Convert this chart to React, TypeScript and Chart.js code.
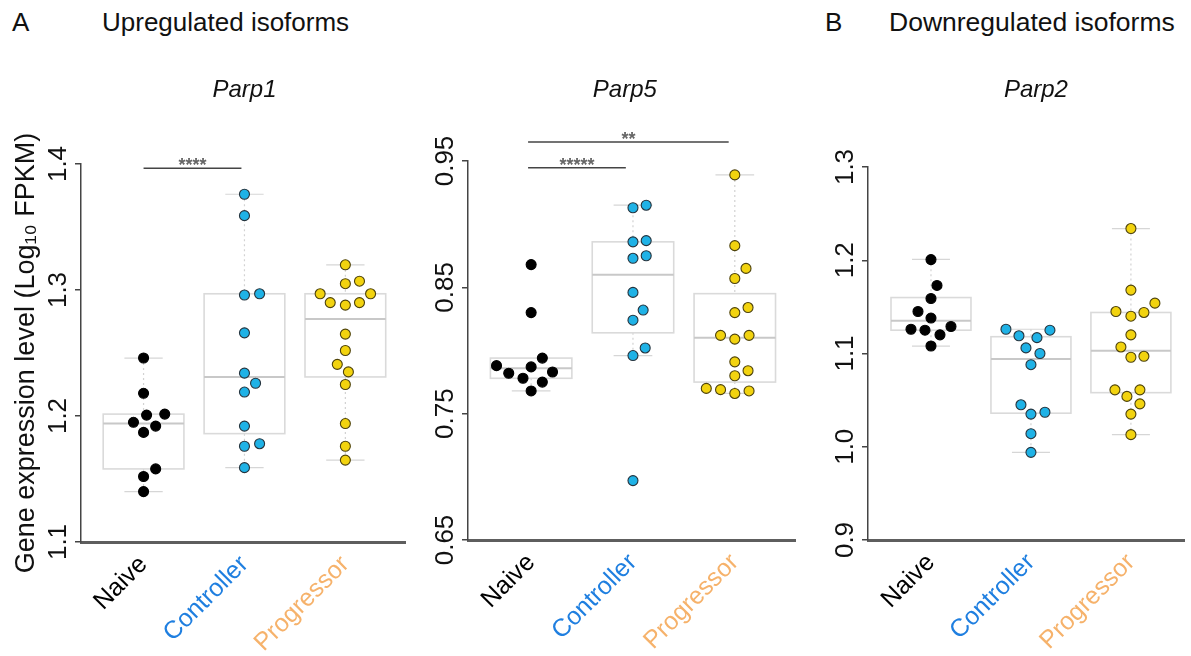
import React, { useEffect, useRef } from 'react';
import { Chart, registerables } from 'chart.js';

Chart.register(...registerables);

const FONT = '"Liberation Sans", Arial, Helvetica, sans-serif';

// ---- shared categories ----
const groups = ['Naive', 'Controller', 'Progressor'];
const groupLabelColors = ['#000000', '#1f7fe0', '#f6b26b'];
const pointFill = ['#000000', '#1fb2e6', '#f2d30f'];
const pointBorder = ['#000000', '#25333d', '#4d420c'];

// ---- Parp1 (upregulated) ----
const parp1NaiveValues = [1.246, 1.218, 1.2007, 1.2015, 1.195, 1.192, 1.187, 1.158, 1.152, 1.14];
const parp1NaiveJitter = [0, 0, 0.03, 0.21, -0.1, 0.12, 0, 0.12, 0, 0];
const parp1ControllerValues = [1.376, 1.359, 1.296, 1.297, 1.266, 1.234, 1.226, 1.219, 1.192, 1.176, 1.178, 1.159];
const parp1ControllerJitter = [0, 0, 0, 0.15, 0, 0, 0.11, 0, 0, 0, 0.15, 0];
const parp1ProgressorValues = [1.32, 1.305, 1.307, 1.297, 1.297, 1.29, 1.288, 1.29, 1.265, 1.252, 1.241, 1.235, 1.225, 1.194, 1.176, 1.165];
const parp1ProgressorJitter = [0, 0, 0.14, -0.25, 0.25, -0.15, 0, 0.14, 0, 0, -0.08, 0.03, 0, 0, 0, 0];
// [lower whisker, Q1, median, Q3, upper whisker]
const parp1Boxes = [
  [1.14, 1.158, 1.194, 1.2015, 1.246],
  [1.159, 1.186, 1.231, 1.297, 1.376],
  [1.165, 1.231, 1.277, 1.297, 1.32],
];
const parp1Ticks = [1.1, 1.2, 1.3, 1.4];
const parp1TickLabels = ['1.1', '1.2', '1.3', '1.4'];
const parp1Sig = [{ from: 0, to: 0.97, y: 1.3966, label: '****' }];

// ---- Parp5 (upregulated) ----
const parp5NaiveValues = [0.868, 0.83, 0.794, 0.788, 0.787, 0.783, 0.782, 0.778, 0.775, 0.768];
const parp5NaiveJitter = [0, 0, 0.11, -0.34, 0, 0.21, -0.22, -0.08, 0.11, 0];
const parp5ControllerValues = [0.913, 0.915, 0.886, 0.887, 0.873, 0.875, 0.846, 0.832, 0.824, 0.802, 0.796, 0.697];
const parp5ControllerJitter = [0, 0.13, 0, 0.13, 0, 0.13, 0, 0.1, 0, 0.12, 0, 0];
const parp5ProgressorValues = [0.939, 0.883, 0.865, 0.857, 0.834, 0.83, 0.812, 0.809, 0.812, 0.791, 0.784, 0.78, 0.77, 0.769, 0.766, 0.768];
const parp5ProgressorJitter = [0, 0, 0.11, 0, 0.13, 0, -0.14, 0, 0.14, 0, 0.13, 0, -0.28, -0.14, 0, 0.14];
const parp5Boxes = [
  [0.768, 0.778, 0.786, 0.794, 0.794],
  [0.796, 0.814, 0.86, 0.886, 0.915],
  [0.766, 0.775, 0.81, 0.845, 0.939],
];
const parp5Ticks = [0.65, 0.75, 0.85, 0.95];
const parp5TickLabels = ['0.65', '0.75', '0.85', '0.95'];
const parp5Sig = [
  { from: -0.03, to: 0.93, y: 0.9447, label: '*****' },
  { from: -0.03, to: 1.94, y: 0.965, label: '**' },
];

// ---- Parp2 (downregulated) ----
const parp2NaiveValues = [1.2007, 1.173, 1.159, 1.145, 1.138, 1.126, 1.125, 1.129, 1.12, 1.108];
const parp2NaiveJitter = [0, 0.06, 0, -0.13, 0, -0.2, -0.06, 0.2, 0.09, 0];
const parp2ControllerValues = [1.126, 1.119, 1.117, 1.125, 1.106, 1.1, 1.088, 1.045, 1.035, 1.037, 1.014, 0.994];
const parp2ControllerJitter = [-0.25, -0.12, 0.06, 0.19, -0.05, 0.09, 0, -0.1, 0, 0.14, 0, 0];
const parp2ProgressorValues = [1.234, 1.168, 1.154, 1.145, 1.14, 1.144, 1.12, 1.107, 1.096, 1.097, 1.061, 1.061, 1.054, 1.046, 1.035, 1.013];
const parp2ProgressorJitter = [0, 0, 0.24, -0.15, 0, 0.13, 0, -0.1, 0, 0.13, -0.16, 0.09, -0.04, 0.09, 0, 0];
const parp2Boxes = [
  [1.108, 1.125, 1.135, 1.16, 1.201],
  [0.994, 1.036, 1.094, 1.118, 1.126],
  [1.013, 1.058, 1.103, 1.144, 1.234],
];
const parp2Ticks = [0.9, 1.0, 1.1, 1.2, 1.3];
const parp2TickLabels = ['0.9', '1.0', '1.1', '1.2', '1.3'];
const parp2Sig: { from: number; to: number; y: number; label: string }[] = [];

type PanelProps = {
  title: string;
  titleAt: number;
  values: number[][];
  jitter: number[][];
  boxes: number[][];
  ticks: number[];
  tickLabels: string[];
  sig: { from: number; to: number; y: number; label: string }[];
  yMin: number;
  yMax: number;
  xMin: number;
  xMax: number;
  left: number;
  width: number;
  padTop: number;
  padRight: number;
  yAxisWidth: number;
  xAxisHeight: number;
  tickPad: number;
  yTitle?: string;
};

const H = 656;

function Panel(p: PanelProps) {
  const ref = useRef<HTMLCanvasElement | null>(null);
  useEffect(() => {
    if (!ref.current) return;
    const extras = {
      id: 'boxExtras',
      beforeDatasetsDraw(chart: any) {
        const { ctx, scales } = chart;
        const x = scales.x;
        const y = scales.y;
        const line = (x1: number, y1: number, x2: number, y2: number) => {
          ctx.beginPath();
          ctx.moveTo(x1, y1);
          ctx.lineTo(x2, y2);
          ctx.stroke();
        };
        p.boxes.forEach((b, g) => {
          const [lo, q1, med, q3, hi] = b;
          const xl = x.getPixelForValue(g - 0.4);
          const xr = x.getPixelForValue(g + 0.4);
          const xc = x.getPixelForValue(g);
          const cl = x.getPixelForValue(g - 0.19);
          const cr = x.getPixelForValue(g + 0.19);
          ctx.save();
          ctx.strokeStyle = '#d2d2d2';
          ctx.lineWidth = 1.2;
          ctx.setLineDash([2, 3]);
          if (hi > q3) line(xc, y.getPixelForValue(hi), xc, y.getPixelForValue(q3));
          if (lo < q1) line(xc, y.getPixelForValue(q1), xc, y.getPixelForValue(lo));
          ctx.setLineDash([]);
          ctx.strokeStyle = '#d6d6d6';
          if (hi > q3) line(cl, y.getPixelForValue(hi), cr, y.getPixelForValue(hi));
          if (lo < q1) line(cl, y.getPixelForValue(lo), cr, y.getPixelForValue(lo));
          ctx.strokeStyle = '#dadada';
          ctx.lineWidth = 1.6;
          ctx.strokeRect(xl, y.getPixelForValue(q3), xr - xl, y.getPixelForValue(q1) - y.getPixelForValue(q3));
          ctx.strokeStyle = '#c8c8c8';
          ctx.lineWidth = 2;
          line(xl, y.getPixelForValue(med), xr, y.getPixelForValue(med));
          ctx.restore();
        });
      },
      afterDraw(chart: any) {
        const { ctx, scales } = chart;
        const x = scales.x;
        const y = scales.y;
        ctx.save();
        ctx.fillStyle = '#111';
        ctx.font = `italic 24px ${FONT}`;
        ctx.textAlign = 'center';
        ctx.textBaseline = 'alphabetic';
        ctx.fillText(p.title, x.getPixelForValue(p.titleAt), 97);
        p.sig.forEach((s) => {
          const yy = y.getPixelForValue(s.y);
          ctx.strokeStyle = '#444';
          ctx.lineWidth = 1.5;
          ctx.beginPath();
          ctx.moveTo(x.getPixelForValue(s.from), yy);
          ctx.lineTo(x.getPixelForValue(s.to), yy);
          ctx.stroke();
          ctx.fillStyle = '#666';
          ctx.font = `bold 18px ${FONT}`;
          ctx.textAlign = 'center';
          ctx.textBaseline = 'alphabetic';
          ctx.fillText(s.label, (x.getPixelForValue(s.from) + x.getPixelForValue(s.to)) / 2, yy + 3);
        });
        ctx.restore();
      },
    };
    const chart = new Chart(ref.current, {
      type: 'scatter',
      data: {
        datasets: p.values.map((vals, g) => ({
          label: groups[g],
          data: vals.map((v, i) => ({ x: g + p.jitter[g][i], y: v })),
          backgroundColor: pointFill[g],
          borderColor: pointBorder[g],
          borderWidth: 1.1,
          pointRadius: 5,
          pointHoverRadius: 5,
        })),
      },
      options: {
        animation: false,
        responsive: false,
        maintainAspectRatio: false,
        devicePixelRatio: 1,
        layout: { padding: { top: p.padTop, right: p.padRight, left: 0, bottom: 0 } },
        plugins: { legend: { display: false }, tooltip: { enabled: false }, title: { display: false } },
        scales: {
          x: {
            type: 'linear',
            min: p.xMin,
            max: p.xMax,
            afterBuildTicks: (s: any) => {
              s.ticks = groups.map((_, i) => ({ value: i }));
            },
            afterFit: (s: any) => {
              s.height = p.xAxisHeight;
            },
            ticks: {
              autoSkip: false,
              minRotation: 45,
              maxRotation: 45,
              padding: 8,
              font: { family: FONT, size: 25 },
              color: (c: any) => groupLabelColors[c.index],
              callback: (_v: any, i: number) => groups[i],
            },
            grid: { display: true, drawOnChartArea: false, drawTicks: false },
            border: { display: true, color: '#5e5e5e', width: 3 },
          },
          y: {
            type: 'linear',
            min: p.yMin,
            max: p.yMax,
            afterBuildTicks: (s: any) => {
              s.ticks = p.ticks.map((v) => ({ value: v }));
            },
            afterFit: (s: any) => {
              s.width = p.yAxisWidth;
            },
            ticks: {
              minRotation: 90,
              maxRotation: 90,
              crossAlign: 'center',
              padding: p.tickPad,
              font: { family: FONT, size: 26 },
              color: '#111',
              callback: (_v: any, i: number) => p.tickLabels[i],
            },
            grid: { display: true, drawOnChartArea: false, drawTicks: true, tickLength: 6, color: '#444', lineWidth: 1.5 },
            border: { display: true, color: '#444', width: 1.5 },
            title: p.yTitle
              ? { display: true, text: p.yTitle, font: { family: FONT, size: 27 }, color: '#111', padding: { top: 10, bottom: 0 } }
              : { display: false },
          },
        },
      },
      plugins: [extras],
    } as any);
    return () => chart.destroy();
  }, []);
  return (
    <canvas
      ref={ref}
      width={p.width}
      height={H}
      style={{ position: 'absolute', left: p.left, top: 0, width: p.width, height: H }}
    />
  );
}

const headStyle: React.CSSProperties = {
  position: 'absolute',
  top: 9,
  fontFamily: FONT,
  fontSize: 26,
  lineHeight: '26px',
  color: '#111',
  whiteSpace: 'nowrap',
};

export default function App() {
  return (
    <div style={{ position: 'absolute', left: 0, top: 0, width: 1191, height: H, background: '#fff', overflow: 'hidden' }}>
      <div style={{ ...headStyle, left: 12 }}>A</div>
      <div style={{ ...headStyle, left: 102 }}>Upregulated isoforms</div>
      <div style={{ ...headStyle, left: 825 }}>B</div>
      <div style={{ ...headStyle, left: 889, fontSize: 26.5 }}>Downregulated isoforms</div>
      <Panel
        title="Parp1"
        titleAt={1}
        values={[parp1NaiveValues, parp1ControllerValues, parp1ProgressorValues]}
        jitter={[parp1NaiveJitter, parp1ControllerJitter, parp1ProgressorJitter]}
        boxes={parp1Boxes}
        ticks={parp1Ticks}
        tickLabels={parp1TickLabels}
        sig={parp1Sig}
        yMin={1.1}
        yMax={1.4}
        xMin={-0.62}
        xMax={2.6}
        left={0}
        width={412}
        padTop={164}
        padRight={3}
        yAxisWidth={81}
        xAxisHeight={114}
        tickPad={-2}
        yTitle="Gene expression level (Log₁₀ FPKM)"
      />
      <Panel
        title="Parp5"
        titleAt={0.92}
        values={[parp5NaiveValues, parp5ControllerValues, parp5ProgressorValues]}
        jitter={[parp5NaiveJitter, parp5ControllerJitter, parp5ProgressorJitter]}
        boxes={parp5Boxes}
        ticks={parp5Ticks}
        tickLabels={parp5TickLabels}
        sig={parp5Sig}
        yMin={0.65}
        yMax={0.95}
        xMin={-0.62}
        xMax={2.6}
        left={412}
        width={390}
        padTop={161}
        padRight={5}
        yAxisWidth={56}
        xAxisHeight={116}
        tickPad={-9}
      />
      <Panel
        title="Parp2"
        titleAt={1.05}
        values={[parp2NaiveValues, parp2ControllerValues, parp2ProgressorValues]}
        jitter={[parp2NaiveJitter, parp2ControllerJitter, parp2ProgressorJitter]}
        boxes={parp2Boxes}
        ticks={parp2Ticks}
        tickLabels={parp2TickLabels}
        sig={parp2Sig}
        yMin={0.9}
        yMax={1.3}
        xMin={-0.63}
        xMax={2.54}
        left={802}
        width={389}
        padTop={167}
        padRight={0}
        yAxisWidth={66}
        xAxisHeight={116}
        tickPad={-2}
      />
    </div>
  );
}
